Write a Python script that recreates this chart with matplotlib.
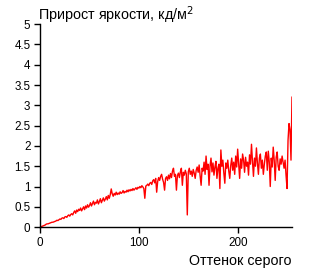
import numpy as np
import matplotlib
matplotlib.use("Agg")
import matplotlib.pyplot as plt

plt.rcParams['font.family'] = ['Liberation Sans', 'DejaVu Sans']

# прирост яркости на каждый шаг оттенка серого (0..255)
gain = [
    0.00, 0.01, 0.02, 0.03, 0.04, 0.05, 0.07, 0.08, 0.08, 0.09, 0.10, 0.11, 0.12, 0.12, 0.13, 0.14,
    0.15, 0.17, 0.16, 0.18, 0.20, 0.19, 0.22, 0.23, 0.21, 0.25, 0.26, 0.24, 0.28, 0.30, 0.27, 0.31,
    0.33, 0.30, 0.36, 0.40, 0.34, 0.42, 0.38, 0.44, 0.41, 0.47, 0.40, 0.45, 0.50, 0.43, 0.52, 0.47,
    0.55, 0.49, 0.53, 0.60, 0.52, 0.58, 0.64, 0.55, 0.61, 0.59, 0.67, 0.57, 0.63, 0.70, 0.60, 0.66,
    0.72, 0.64, 0.69, 0.75, 0.67, 0.78, 0.71, 0.80, 0.94, 0.82, 0.76, 0.83, 0.79, 0.86, 0.80, 0.84,
    0.81, 0.87, 0.83, 0.85, 0.90, 0.84, 0.88, 0.86, 0.91, 0.87, 0.92, 0.89, 0.93, 0.90, 0.95, 0.91,
    0.94, 0.97, 0.93, 0.98, 0.96, 1.00, 0.97, 1.02, 0.99, 0.95, 0.71, 1.01, 1.03, 1.06, 1.02, 1.08,
    1.10, 1.05, 1.14, 1.17, 1.09, 1.20, 0.86, 1.12, 1.22, 1.15, 1.25, 1.30, 1.18, 1.10, 0.91, 1.20,
    1.24, 1.15, 1.28, 1.19, 1.32, 1.22, 1.38, 1.45, 1.25, 1.30, 0.91, 1.27, 1.33, 1.22, 1.36, 1.45,
    1.03, 1.35, 1.28, 1.40, 1.31, 0.30, 1.36, 1.45, 1.30, 1.38, 1.25, 1.42, 1.33, 1.20, 1.40, 1.48,
    1.35, 1.53, 1.26, 1.03, 1.45, 1.38, 1.60, 1.30, 1.75, 1.42, 1.55, 1.03, 1.50, 1.70, 1.36, 1.58,
    1.28, 1.48, 1.62, 1.20, 1.45, 1.55, 0.95, 1.90, 1.50, 1.65, 1.33, 1.08, 1.58, 1.45, 1.65, 1.38,
    1.20, 1.52, 1.70, 1.40, 1.60, 1.30, 1.75, 1.48, 1.92, 1.55, 1.20, 1.68, 1.45, 1.80, 1.65, 1.35,
    1.72, 1.50, 1.60, 1.28, 1.78, 1.55, 2.04, 1.62, 1.25, 1.70, 1.50, 1.95, 1.58, 1.30, 1.70, 1.80,
    1.45, 1.65, 1.30, 1.55, 1.75, 1.85, 1.40, 1.87, 1.60, 1.00, 1.70, 1.48, 1.97, 1.65, 1.15, 1.72,
    1.85, 1.50, 1.40, 1.68, 1.55, 1.75, 1.60, 1.45, 1.65, 1.27, 0.95, 2.14, 2.55, 2.40, 1.65, 3.20,
]
shade = np.arange(len(gain))

x_ticks = [0, 100, 200]
y_ticks = [0, 0.5, 1, 1.5, 2, 2.5, 3, 3.5, 4, 4.5, 5]
y_labels = ["0", "0.5", "1", "1.5", "2", "2.5", "3", "3.5", "4", "4.5", "5"]

fig = plt.figure(figsize=(3.16, 2.71), dpi=100)
ax = fig.add_axes([0.127, 0.162, 0.797, 0.749])

ax.plot(shade, gain, color="#ff0000", lw=1.0)

ax.set_xlim(0, 255)
ax.set_ylim(0, 5)
ax.set_xticks(x_ticks)
ax.set_yticks(y_ticks)
ax.set_yticklabels(y_labels)
for s in ["top", "right"]:
    ax.spines[s].set_visible(False)
for s in ["left", "bottom"]:
    ax.spines[s].set_linewidth(1.0)
ax.tick_params(direction="out", length=4, width=1, labelsize=8.4, pad=3)

fig.text(0.12, 0.985, "Прирост яркости, кд/м$^2$", ha="left", va="top", fontsize=10.4)
fig.text(0.924, 0.01, "Оттенок серого", ha="right", va="bottom", fontsize=10.3)

fig.savefig("out.png", dpi=100)
